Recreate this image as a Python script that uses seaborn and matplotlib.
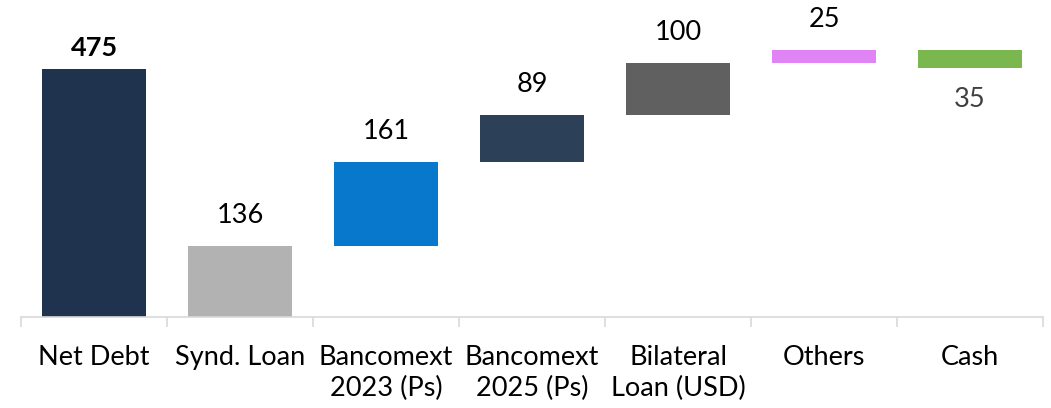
import matplotlib
matplotlib.use("Agg")
import matplotlib.pyplot as plt
import seaborn as sns
import numpy as np
import pandas as pd

categories = ["Net Debt", "Synd. Loan", "Bancomext\n2023 (Ps)", "Bancomext\n2025 (Ps)",
              "Bilateral\nLoan (USD)", "Others", "Cash"]
steps = [475, 136, 161, 89, 100, 25, -35]
labels = ["475", "136", "161", "89", "100", "25", "35"]
colors = ["#1F324E", "#B2B2B2", "#0878CC", "#2C4058", "#606060", "#E083F5", "#7AB74F"]

# waterfall bases
bottoms = []
running = 0
for i, s in enumerate(steps):
    if i <= 1:
        bottoms.append(0)
        running = s
    else:
        bottoms.append(running if s >= 0 else running + s)
        running += s
heights = [abs(s) for s in steps]

df = pd.DataFrame({"cat": categories, "height": heights, "bottom": bottoms})

sns.set_theme(style="white")
plt.rcParams["font.family"] = ["Lato", "DejaVu Sans"]

fig = plt.figure(figsize=(10.51, 4.08), dpi=100)
ax = fig.add_axes([21/1051, (408-317)/408, (1043-21)/1051, 317/408])

sns.barplot(data=df, x="cat", y="height", bottom=df["bottom"].values, color="#888888",
            width=0.71, errorbar=None, ax=ax, saturation=1)
for p, c in zip(ax.patches, colors):
    p.set_facecolor(c)
    p.set_edgecolor("none")

ax.set_xlim(-0.5, 6.5)
ax.set_ylim(0, 606)
ax.set_xlabel("")
ax.set_ylabel("")
ax.set_yticks([])

FS = 19.5
for i, (s, b, h, lab) in enumerate(zip(steps, bottoms, heights, labels)):
    if i == 0:
        ax.annotate(lab, (i, b + h), xytext=(0, 6), textcoords="offset points",
                    ha="center", va="bottom", fontsize=FS, fontweight="bold", color="black")
    elif s >= 0:
        ax.annotate(lab, (i, b + h), xytext=(0, 13), textcoords="offset points",
                    ha="center", va="bottom", fontsize=FS, color="black")
    else:
        ax.annotate(lab, (i, b), xytext=(0, -14), textcoords="offset points",
                    ha="center", va="top", fontsize=FS, color="#404040")

for sp in ["top", "right", "left"]:
    ax.spines[sp].set_visible(False)
ax.spines["bottom"].set_color("#D9D9D9")
ax.spines["bottom"].set_linewidth(1.2)

ax.set_xticks(np.arange(-0.5, 7, 1), minor=True)
ax.tick_params(axis="x", which="minor", length=7, width=1.2, color="#D9D9D9", direction="out", bottom=True)
ax.tick_params(axis="x", which="major", length=0, labelsize=FS, pad=20, labelcolor="black")
for t in ax.get_xticklabels():
    t.set_linespacing(1.3)

fig.savefig("out.png", dpi=100)
